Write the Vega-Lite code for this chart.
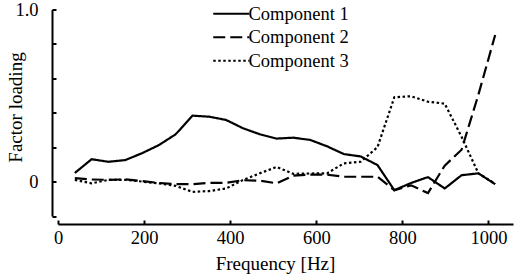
{
  "$schema": "https://vega.github.io/schema/vega-lite/v6.json",
  "autosize": {"type": "none"},
  "padding": {"left": 58, "top": 9.5, "right": 4, "bottom": 59},
  "width": 455,
  "height": 206.5,
  "background": "white",
  "config": {
    "view": {"stroke": null},
    "font": "Liberation Serif",
    "axis": {
      "grid": false,
      "domainColor": "black",
      "domainWidth": 2,
      "tickColor": "black",
      "tickWidth": 2,
      "tickSize": -4,
      "labelFlush": false,
      "labelOverlap": false,
      "labelFont": "Liberation Serif",
      "labelFontSize": 18.5,
      "labelColor": "black",
      "titleFont": "Liberation Serif",
      "titleFontSize": 19,
      "titleFontWeight": "normal",
      "titleColor": "black"
    },
    "legend": {
      "labelFont": "Liberation Serif",
      "labelFontSize": 18.5,
      "labelColor": "black"
    }
  },
  "data": {
    "values": [
      {"f": 39.1, "Component 1": 0.05, "Component 2": 0.02, "Component 3": 0.01},
      {"f": 78.1, "Component 1": 0.13, "Component 2": 0.012, "Component 3": -0.01},
      {"f": 117.2, "Component 1": 0.115, "Component 2": 0.01, "Component 3": 0.01},
      {"f": 156.3, "Component 1": 0.125, "Component 2": 0.013, "Component 3": 0.01},
      {"f": 195.3, "Component 1": 0.165, "Component 2": 0.003, "Component 3": 0.0},
      {"f": 234.4, "Component 1": 0.212, "Component 2": -0.008, "Component 3": -0.01},
      {"f": 273.4, "Component 1": 0.275, "Component 2": -0.015, "Component 3": -0.025},
      {"f": 312.5, "Component 1": 0.383, "Component 2": -0.015, "Component 3": -0.06},
      {"f": 351.6, "Component 1": 0.377, "Component 2": -0.007, "Component 3": -0.055},
      {"f": 390.6, "Component 1": 0.358, "Component 2": -0.007, "Component 3": -0.04},
      {"f": 429.7, "Component 1": 0.31, "Component 2": 0.008, "Component 3": 0.009},
      {"f": 468.8, "Component 1": 0.275, "Component 2": 0.005, "Component 3": 0.048},
      {"f": 507.8, "Component 1": 0.25, "Component 2": -0.01, "Component 3": 0.085},
      {"f": 546.9, "Component 1": 0.255, "Component 2": 0.035, "Component 3": 0.045},
      {"f": 585.9, "Component 1": 0.242, "Component 2": 0.04, "Component 3": 0.047},
      {"f": 625.0, "Component 1": 0.205, "Component 2": 0.04, "Component 3": 0.048},
      {"f": 664.1, "Component 1": 0.16, "Component 2": 0.028, "Component 3": 0.106},
      {"f": 703.1, "Component 1": 0.146, "Component 2": 0.028, "Component 3": 0.115},
      {"f": 742.2, "Component 1": 0.096, "Component 2": 0.028, "Component 3": 0.2},
      {"f": 781.3, "Component 1": -0.05, "Component 2": -0.05, "Component 3": 0.49},
      {"f": 820.3, "Component 1": -0.008, "Component 2": -0.022, "Component 3": 0.496},
      {"f": 859.4, "Component 1": 0.026, "Component 2": -0.067, "Component 3": 0.464},
      {"f": 898.4, "Component 1": -0.04, "Component 2": 0.093, "Component 3": 0.453},
      {"f": 937.5, "Component 1": 0.037, "Component 2": 0.185, "Component 3": 0.26},
      {"f": 976.6, "Component 1": 0.048, "Component 2": 0.505, "Component 3": 0.048},
      {"f": 1015.6, "Component 1": -0.015, "Component 2": 0.852, "Component 3": -0.013}
    ]
  },
  "transform": [
    {"fold": ["Component 1", "Component 2", "Component 3"], "as": ["component", "value"]}
  ],
  "mark": {"type": "line", "color": "black", "strokeWidth": 2.2, "strokeCap": "butt"},
  "encoding": {
    "x": {
      "field": "f",
      "type": "quantitative",
      "scale": {"domain": [0, 1057], "nice": false, "zero": false},
      "axis": {
        "title": "Frequency [Hz]",
        "values": [0, 200, 400, 600, 800, 1000],
        "format": "d",
        "offset": 8,
        "labelPadding": 8,
        "titleX": 217,
        "titlePadding": 8
      }
    },
    "y": {
      "field": "value",
      "type": "quantitative",
      "scale": {"domain": [-0.2, 1.0], "nice": false, "zero": false},
      "axis": {
        "title": "Factor loading",
        "values": [-0.2, 0, 0.2, 0.4, 0.6, 0.8, 1.0],
        "labelExpr": "datum.value == 0 ? '0' : (datum.value == 1 ? '1.0' : '')",
        "labelAlign": "right",
        "offset": 6,
        "labelPadding": 18,
        "titleX": -27,
        "titleY": 97.5
      }
    },
    "strokeDash": {
      "field": "component",
      "type": "nominal",
      "scale": {
        "domain": ["Component 1", "Component 2", "Component 3"],
        "range": [[1, 0], [12, 5], [2.5, 2.5]]
      },
      "legend": {
        "title": null,
        "orient": "none",
        "legendX": 164,
        "legendY": -5,
        "padding": 0,
        "symbolType": "M-3,0H3",
        "symbolSize": 144,
        "symbolStrokeWidth": 2,
        "symbolStrokeColor": "black",
        "symbolFillColor": "transparent",
        "labelOffset": 8,
        "rowPadding": 4.5
      }
    }
  }
}
